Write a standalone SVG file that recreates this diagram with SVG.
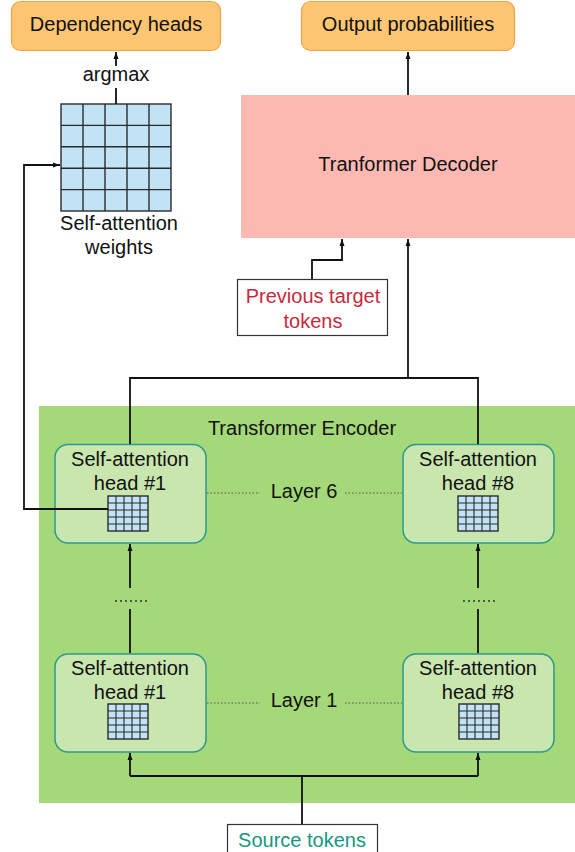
<svg xmlns="http://www.w3.org/2000/svg" width="575" height="852" viewBox="0 0 575 852">
<defs>
<style>
text{font-family:"Liberation Sans",Arial,sans-serif;font-size:20px;fill:#111;text-anchor:middle}
.out{fill:#fec573;stroke:#f2a444;stroke-width:1.2}
.head{fill:#c8e6ae;stroke:#2a9a8c;stroke-width:1.5}
.grid{fill:#c2e3f6;stroke:#2b2b2b;stroke-width:1.4}
.gl{stroke:#2b2b2b;stroke-width:1.4;fill:none}
.sgl{stroke:#2b2b2b;stroke-width:1.1;fill:none}
.c{stroke:#111;stroke-width:1.8;fill:none}
.dot{stroke:#555;stroke-width:1;stroke-dasharray:1.5 2;fill:none}
.dots{stroke:#555;stroke-width:2;stroke-dasharray:2 3;fill:none}
</style>
<marker id="ah" viewBox="0 0 8 8" refX="7" refY="4" markerWidth="8" markerHeight="8" markerUnits="userSpaceOnUse" orient="auto">
<path d="M0,1.5 L7,4 L0,6.5 Z" fill="#111"/>
</marker>
</defs>
<rect width="575" height="852" fill="#fff"/>

<g id="encoder">
<rect x="39" y="406" width="536" height="397" fill="#a5d878"/>
<text x="302" y="435">Transformer Encoder</text>
</g>

<g id="dependency-heads">
<rect class="out" x="11.5" y="1.5" width="209" height="49" rx="9"/>
<text x="116" y="31">Dependency heads</text>
</g>

<g id="output-probabilities">
<rect class="out" x="301.5" y="1.5" width="213" height="49" rx="9"/>
<text x="408" y="31">Output probabilities</text>
</g>

<g id="argmax-label">
<text x="116" y="81">argmax</text>
</g>

<g id="attention-weights">
<rect class="grid" x="61" y="104" width="110" height="107"/>
<path class="gl" d="M83,104 V211 M105,104 V211 M127,104 V211 M149,104 V211 M61,125.4 H171 M61,146.8 H171 M61,168.2 H171 M61,189.6 H171"/>
<text x="119" y="230">Self-attention</text>
<text x="119" y="254">weights</text>
</g>

<g id="decoder">
<rect x="241" y="95" width="334" height="143" fill="#fdb9b1"/>
<text x="408" y="171">Tranformer Decoder</text>
</g>

<g id="previous-target-tokens">
<rect x="237.5" y="279.5" width="150" height="56" fill="#fff" stroke="#333" stroke-width="1.2"/>
<text x="313" y="303" style="fill:#c8293d">Previous target</text>
<text x="313" y="328" style="fill:#c8293d">tokens</text>
</g>

<g id="head1-layer6">
<rect class="head" x="55" y="444.5" width="151" height="98.5" rx="13"/>
<text x="130" y="466">Self-attention</text>
<text x="130" y="490">head #1</text>
<rect class="grid" x="108" y="496" width="40" height="35"/>
<path class="sgl" d="M116,496 V531 M124,496 V531 M132,496 V531 M140,496 V531 M108,503 H148 M108,510 H148 M108,517 H148 M108,524 H148"/>
</g>

<g id="head8-layer6">
<rect class="head" x="403" y="444.5" width="151" height="98.5" rx="13"/>
<text x="478" y="466">Self-attention</text>
<text x="478" y="490">head #8</text>
<rect class="grid" x="458" y="496" width="40" height="35"/>
<path class="sgl" d="M466,496 V531 M474,496 V531 M482,496 V531 M490,496 V531 M458,503 H498 M458,510 H498 M458,517 H498 M458,524 H498"/>
</g>

<g id="layer6-label">
<text x="304" y="498">Layer 6</text>
</g>

<g id="head1-layer1">
<rect class="head" x="55" y="654" width="151" height="98" rx="13"/>
<text x="130" y="675">Self-attention</text>
<text x="130" y="699">head #1</text>
<rect class="grid" x="108" y="704" width="40" height="35"/>
<path class="sgl" d="M116,704 V739 M124,704 V739 M132,704 V739 M140,704 V739 M108,711 H148 M108,718 H148 M108,725 H148 M108,732 H148"/>
</g>

<g id="head8-layer1">
<rect class="head" x="403" y="654" width="151" height="98" rx="13"/>
<text x="478" y="675">Self-attention</text>
<text x="478" y="699">head #8</text>
<rect class="grid" x="459" y="704" width="40" height="35"/>
<path class="sgl" d="M467,704 V739 M475,704 V739 M483,704 V739 M491,704 V739 M459,711 H499 M459,718 H499 M459,725 H499 M459,732 H499"/>
</g>

<g id="layer1-label">
<text x="304" y="707">Layer 1</text>
</g>

<g id="source-tokens">
<rect x="227.5" y="824.5" width="150" height="40" fill="#fff" stroke="#333" stroke-width="1.2"/>
<text x="302" y="847" style="fill:#17977f">Source tokens</text>
</g>

<g id="connectors">
<path class="c" d="M116,104 V88" />
<path class="c" d="M116,66 V52" marker-end="url(#ah)"/>
<path class="c" d="M24,510 V165 H60" marker-end="url(#ah)"/>
<path class="c" d="M24,509 H108"/>
<path class="c" d="M408,95 V52" marker-end="url(#ah)"/>
<path class="c" d="M312,279 V260 H342 V239" marker-end="url(#ah)"/>
<path class="c" d="M130,444 V378 H478 V444"/>
<path class="c" d="M408,378 V239" marker-end="url(#ah)"/>
<path class="c" d="M130,653 V609"/>
<path class="c" d="M130,588 V544" marker-end="url(#ah)"/>
<path class="c" d="M478,653 V609"/>
<path class="c" d="M478,588 V544" marker-end="url(#ah)"/>
<path class="c" d="M302,824 V776"/>
<path class="c" d="M130,776 H478"/>
<path class="c" d="M130,776 V753" marker-end="url(#ah)"/>
<path class="c" d="M478,776 V753" marker-end="url(#ah)"/>
<path class="dots" d="M115,601 H147"/>
<path class="dots" d="M463,601 H495"/>
<path class="dot" d="M207,493 H260 M345,493 H402"/>
<path class="dot" d="M207,703 H260 M345,703 H402"/>
</g>
</svg>
